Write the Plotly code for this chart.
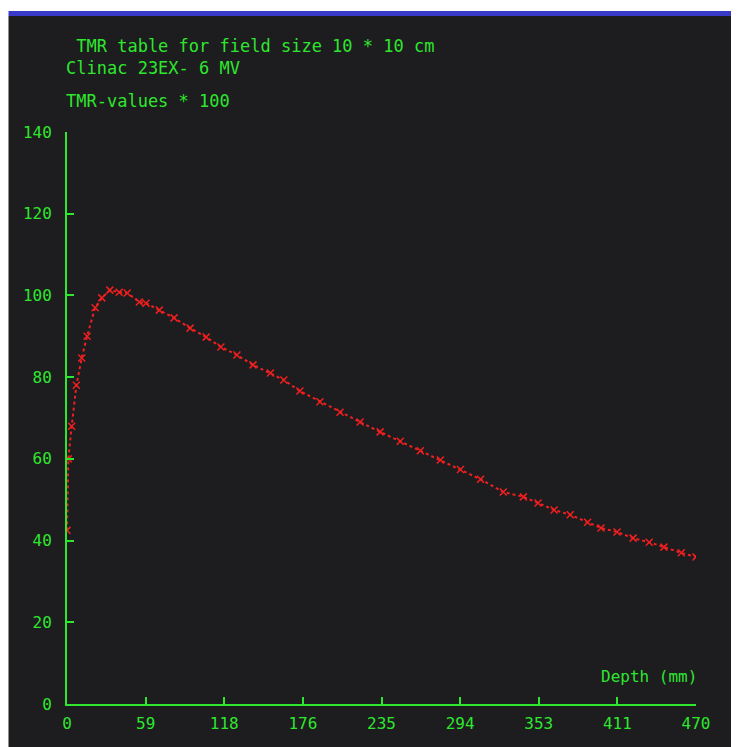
import plotly.graph_objects as go

# Data (depth in mm, TMR * 100)
depth = [0, 1, 3.5, 7, 11, 15, 21, 26, 32, 39, 45, 54, 59, 69, 80, 92, 104, 115,
         127, 139, 152, 162, 174, 189, 204, 219, 234, 249, 264, 279, 294, 309,
         326, 341, 352, 364, 376, 389, 399, 411, 423, 435, 446, 459, 470]
tmr = [42.5, 60, 68, 78, 84.7, 90, 97, 99.4, 101.3, 100.8, 100.6, 98.4, 98.1,
       96.4, 94.5, 92, 89.8, 87.4, 85.4, 83, 81, 79.3, 76.6, 74, 71.4, 69, 66.6,
       64.3, 62, 59.7, 57.4, 55, 51.9, 50.7, 49.2, 47.5, 46.3, 44.5, 43.1, 42.1,
       40.6, 39.6, 38.4, 37, 36]

x_tickvals = [0, 58.75, 117.5, 176.25, 235, 293.75, 352.5, 411.25, 470]
x_ticktext = ["0", "59", "118", "176", "235", "294", "353", "411", "470"]
y_tickvals = [0, 20, 40, 60, 80, 100, 120, 140]
y_ticktext = ["0", "20", "40", "60", "80", "100", "120", "140"]

title_lines = [" TMR table for field size 10 * 10 cm", "Clinac 23EX- 6 MV", "TMR-values * 100"]
x_label = "Depth (mm)"

GREEN = "#2ee62e"
RED = "#f02020"
DARK = "#1d1c1e"
FONT = "DejaVu Sans Mono"

OFF = 8  # page body margin
W, H = 739 - OFF, 747 - OFF
L, R, T, B = 67 - OFF, 43, 132 - OFF, 43
PW, PH = W - L - R, H - T - B


def px(xp):  # reference page pixel -> paper coordinate
    return (xp - OFF - L) / PW


def py(yp):
    return (H - B - (yp - OFF)) / PH


fig = go.Figure()
fig.add_trace(go.Scatter(
    x=depth, y=tmr, mode="lines+markers",
    line=dict(color=RED, width=2, dash="dot"),
    marker=dict(symbol="x-thin", size=7, line=dict(color=RED, width=1.5)),
    showlegend=False, hoverinfo="skip",
))

shapes = [
    dict(type="rect", xref="paper", yref="paper", x0=px(0), x1=px(W + 20), y0=py(11), y1=py(0),
         fillcolor="white", line=dict(width=0), layer="below"),
    dict(type="rect", xref="paper", yref="paper", x0=px(0), x1=px(W + 20), y0=py(16), y1=py(11),
         fillcolor="#3a3ac8", line=dict(width=0), layer="below"),
    dict(type="rect", xref="paper", yref="paper", x0=px(0), x1=px(8.5), y0=py(H + 20), y1=py(0),
         fillcolor="white", line=dict(width=0), layer="below"),
]

annotations = []
for text, yc in zip(title_lines, [46, 68, 101]):
    annotations.append(dict(text=text, xref="paper", yref="paper", x=px(64), y=py(yc),
                            xanchor="left", yanchor="middle", showarrow=False,
                            font=dict(family=FONT, size=17, color=GREEN)))
annotations.append(dict(text=x_label, xref="paper", yref="paper", x=px(699), y=py(676),
                        xanchor="right", yanchor="middle", showarrow=False,
                        font=dict(family=FONT, size=16, color=GREEN)))

fig.update_layout(
    width=W, height=H,
    margin=dict(l=L, r=R, t=T, b=B, pad=0),
    paper_bgcolor=DARK, plot_bgcolor=DARK,
    shapes=shapes, annotations=annotations,
    xaxis=dict(range=[0, 470], tickvals=x_tickvals, ticktext=x_ticktext,
               showgrid=False, zeroline=False, showline=True, linecolor=GREEN, linewidth=2,
               ticks="inside", ticklen=7, tickwidth=2, tickcolor=GREEN,
               tickfont=dict(family=FONT, size=16, color=GREEN), ticklabelstandoff=4),
    yaxis=dict(range=[0, 140], tickvals=y_tickvals, ticktext=y_ticktext,
               showgrid=False, zeroline=False, showline=True, linecolor=GREEN, linewidth=2,
               ticks="inside", ticklen=7, tickwidth=2, tickcolor=GREEN,
               tickfont=dict(family=FONT, size=16, color=GREEN), ticklabelstandoff=10),
)

fig.write_html("out.html")
